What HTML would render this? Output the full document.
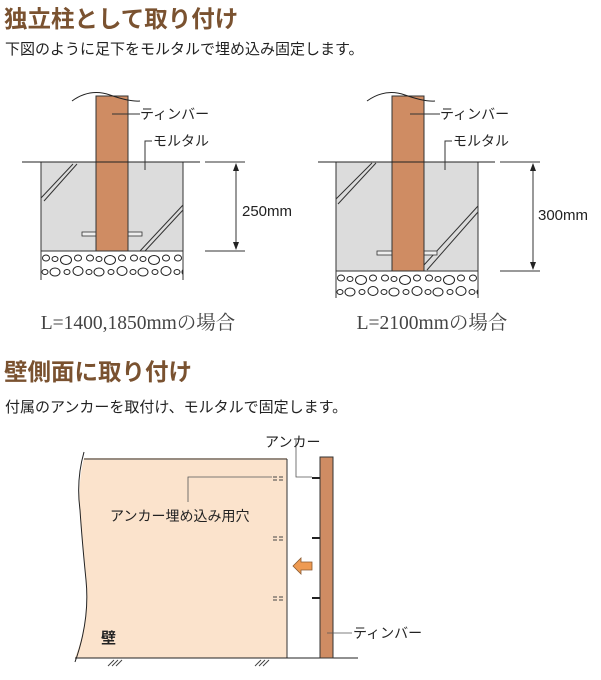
<!DOCTYPE html>
<html><head><meta charset="utf-8">
<style>
html,body{margin:0;padding:0;background:#fff;width:601px;height:680px;overflow:hidden}
svg{display:block}
.t{font-family:"Liberation Sans","Noto Sans CJK JP",sans-serif}
.s{font-family:"Liberation Serif","Noto Serif CJK SC",serif}
</style></head><body>
<svg width="601" height="680" viewBox="0 0 601 680" xmlns="http://www.w3.org/2000/svg">
<defs>
<g id="gtile" fill="none" stroke="#222" stroke-width="1">
<ellipse cx="5" cy="7" rx="3.5" ry="3"/>
<ellipse cx="14" cy="8" rx="3" ry="2.5"/>
<ellipse cx="25" cy="9" rx="5.5" ry="4.5"/>
<ellipse cx="37" cy="7" rx="3.5" ry="3"/>
<ellipse cx="4" cy="21" rx="3" ry="2.5"/>
<ellipse cx="14" cy="21" rx="5" ry="4"/>
<ellipse cx="26" cy="21" rx="3" ry="2.5"/>
<ellipse cx="37" cy="20" rx="5" ry="4.5"/>
</g>
<pattern id="grav1" x="41" y="251" width="44" height="29" patternUnits="userSpaceOnUse"><use href="#gtile"/></pattern>
<pattern id="grav2" x="336" y="271" width="44" height="27" patternUnits="userSpaceOnUse"><use href="#gtile"/></pattern>
</defs>

<text class="t" x="4" y="27" font-size="23.5" font-weight="bold" fill="#7a5230">独立柱として取り付け</text>
<text class="t" x="5" y="54" font-size="15" fill="#222">下図のように足下をモルタルで埋め込み固定します。</text>

<!-- left diagram -->
<rect x="41" y="162" width="142" height="89" fill="#dcdcdc" stroke="#333" stroke-width="1"/>
<rect x="41" y="251" width="142" height="29" fill="url(#grav1)"/>
<line x1="41" y1="251" x2="41" y2="280" stroke="#333"/><line x1="183" y1="251" x2="183" y2="280" stroke="#333"/>
<line x1="41" y1="251" x2="183" y2="251" stroke="#333"/>
<g stroke="#333" stroke-width="1" fill="none">
<path d="M41 198 L73 164 M44 201 L77 164"/>
<path d="M140 251 L183 205 M145 251 L183 210"/>
</g>
<rect x="82" y="232" width="60" height="4" fill="#eee" stroke="#333" stroke-width="0.8"/>
<rect x="96" y="96" width="32" height="155" fill="#cf8c63" stroke="#333" stroke-width="1"/>
<path d="M72 101 Q90 88 110 95 T140 101" fill="none" stroke="#222" stroke-width="1"/>
<line x1="22" y1="162" x2="200" y2="162" stroke="#222"/>
<line x1="112" y1="114" x2="140" y2="114" stroke="#333"/>
<text class="t" x="140" y="119" font-size="14" fill="#222">ティンバー</text>
<path d="M145 170 V141 H152" fill="none" stroke="#333"/>
<text class="t" x="153" y="146" font-size="14" fill="#222">モルタル</text>
<line x1="205" y1="162" x2="245" y2="162" stroke="#333"/>
<line x1="205" y1="251" x2="245" y2="251" stroke="#333"/>
<line x1="236" y1="164" x2="236" y2="249" stroke="#333"/>
<path d="M236 163 l-3 8 h6z M236 250 l-3 -8 h6z" fill="#222"/>
<text class="t" x="242" y="216" font-size="15" fill="#222">250mm</text>
<text class="s" x="138" y="329" font-size="19.5" fill="#444" text-anchor="middle">L=1400,1850mmの場合</text>

<!-- right diagram -->
<rect x="336" y="162" width="142" height="109" fill="#dcdcdc" stroke="#333" stroke-width="1"/>
<rect x="336" y="271" width="142" height="27" fill="url(#grav2)"/>
<line x1="336" y1="271" x2="336" y2="298" stroke="#333"/><line x1="478" y1="271" x2="478" y2="298" stroke="#333"/>
<line x1="336" y1="271" x2="478" y2="271" stroke="#333"/>
<g stroke="#333" stroke-width="1" fill="none">
<path d="M336 199 L372 163 M338 204 L376 163"/>
<path d="M424 265 L478 206 M427 270 L478 212"/>
</g>
<rect x="377" y="251" width="60" height="4" fill="#eee" stroke="#333" stroke-width="0.8"/>
<rect x="392" y="96" width="32" height="175" fill="#cf8c63" stroke="#333" stroke-width="1"/>
<path d="M367 101 Q385 88 405 95 T435 101" fill="none" stroke="#222" stroke-width="1"/>
<line x1="318" y1="162" x2="495" y2="162" stroke="#222"/>
<line x1="410" y1="114" x2="440" y2="114" stroke="#333"/>
<text class="t" x="440" y="119" font-size="14" fill="#222">ティンバー</text>
<path d="M445 170 V141 H452" fill="none" stroke="#333"/>
<text class="t" x="453" y="146" font-size="14" fill="#222">モルタル</text>
<line x1="500" y1="162" x2="540" y2="162" stroke="#333"/>
<line x1="500" y1="271" x2="540" y2="271" stroke="#333"/>
<line x1="533" y1="164" x2="533" y2="269" stroke="#333"/>
<path d="M533 163 l-3 8 h6z M533 270 l-3 -8 h6z" fill="#222"/>
<text class="t" x="538" y="220" font-size="15" fill="#222">300mm</text>
<text class="s" x="432" y="329" font-size="19.5" fill="#444" text-anchor="middle">L=2100mmの場合</text>

<!-- section 2 -->
<text class="t" x="4" y="380" font-size="23.5" font-weight="bold" fill="#7a5230">壁側面に取り付け</text>
<text class="t" x="5" y="412" font-size="15" fill="#222">付属のアンカーを取付け、モルタルで固定します。</text>

<path d="M84 458 H287 V658 H75 Q90 620 86 580 Q82 540 80 510 Q78 480 84 458 Z" fill="#fbe3cc"/>
<path d="M84 452 Q76 480 80 510 Q82 540 86 580 Q90 620 75 662" fill="none" stroke="#222"/>
<line x1="84" y1="459" x2="287" y2="459" stroke="#333"/>
<line x1="287" y1="459" x2="287" y2="658" stroke="#333"/>
<line x1="75" y1="658" x2="358" y2="658" stroke="#222"/>
<g stroke="#444" stroke-width="1">
<path d="M108 666 l6 -6 M112 666 l6 -6 M116 666 l6 -6"/>
<path d="M255 666 l6 -6 M259 666 l6 -6 M263 666 l6 -6"/>
</g>
<g stroke="#444" stroke-width="1">
<path d="M273 477 h4 M279 477 h4 M273 480 h4 M279 480 h4"/>
<path d="M273 537 h4 M279 537 h4 M273 540 h4 M279 540 h4"/>
<path d="M273 597 h4 M279 597 h4 M273 600 h4 M279 600 h4"/>
</g>
<rect x="320" y="457" width="13" height="201" fill="#cf8c63" stroke="#333" stroke-width="1"/>
<g stroke="#222" stroke-width="2">
<line x1="312" y1="478" x2="320" y2="478"/>
<line x1="312" y1="538" x2="320" y2="538"/>
<line x1="312" y1="598" x2="320" y2="598"/>
</g>
<path d="M293 566 l8 -8 v4 h11 v8 h-11 v4 z" fill="#ee9a52" stroke="#8a5a30" stroke-width="0.8"/>
<path d="M296 440 V477 H312" fill="none" stroke="#555" stroke-width="0.8"/>
<text class="t" x="265" y="447" font-size="14" fill="#222">アンカー</text>
<path d="M188 502 V477 H272" fill="none" stroke="#555" stroke-width="0.8"/>
<text class="t" x="110" y="521" font-size="14" fill="#222">アンカー埋め込み用穴</text>
<line x1="327" y1="633" x2="352" y2="633" stroke="#555" stroke-width="0.8"/>
<text class="t" x="353" y="638" font-size="14" fill="#222">ティンバー</text>
<text class="t" x="101" y="643" font-size="15" font-weight="bold" fill="#222">壁</text>
</svg>
</body></html>
